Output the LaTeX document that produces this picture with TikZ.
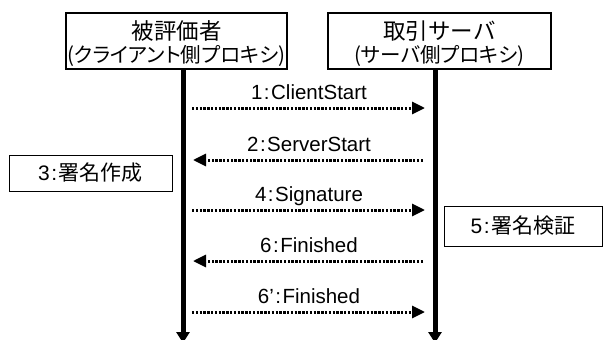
\documentclass[tikz,border=0pt]{standalone}
\usepackage{fontspec}
\setmainfont{Liberation Sans}
\newfontfamily\jp{Noto Sans CJK JP}
\newfontfamily\jpp{Noto Sans CJK JP}[RawFeature=+palt]
\usetikzlibrary{arrows.meta}
\newcommand{\clr}{\kern1.5pt:\kern1.5pt}
\begin{document}
\begin{tikzpicture}[x=1pt,y=-1pt,
  actorbox/.style={draw, line width=1.3pt, minimum height=56pt, inner sep=0pt},
  headA/.style={inner sep=0pt, font=\fontsize{22.5}{24}\selectfont\jp},
  headB/.style={inner sep=0pt, font=\fontsize{20.5}{24}\selectfont\jpp},
  notebox/.style={draw, line width=1pt, inner sep=0pt, font=\fontsize{21}{24}\selectfont},
  life/.style={line width=5pt, -{Triangle[length=11pt,width=13pt]}},
  msg/.style={line width=3pt, dash pattern=on 2.4pt off 1.4pt, -{Triangle[length=13pt,width=12pt]}},
  lbl/.style={font=\fontsize{20.5}{24}\selectfont, anchor=base}
]
\useasboundingbox (0,0) rectangle (603,340);
% actors
\node[actorbox, minimum width=221pt] (cli) at (176.5,41) {};
\node[actorbox, minimum width=223pt] (srv) at (439.5,41) {};
\node[headA] (cli1) at (176.5,31) {被評価者};
\node[headB] (cli2) at (176.5,56) {(クライアント側プロキシ)};
\node[headA] (srv1) at (439.5,31) {取引サーバ};
\node[headB] (srv2) at (439.5,56) {(サーバ側プロキシ)};
% lifelines
\coordinate (cT) at (183,69);
\coordinate (cB) at (183,343);
\coordinate (sT) at (435,69);
\coordinate (sB) at (435,343);
\draw[life] (cT) -- (cB);
\draw[life] (sT) -- (sB);
% message anchor points
\foreach \i/\y in {1/108,2/160,4/210,6/261,7/312}{
  \coordinate (cL\i) at (192,\y);
  \coordinate (sR\i) at (425,\y);
}
\coordinate (sL2) at (423,160);
\coordinate (cR2) at (193,160);
\coordinate (sL6) at (423,261);
\coordinate (cR6) at (193,261);
\draw[msg] (cL1) -- (sR1);
\draw[msg] (sL2) -- (cR2);
\draw[msg] (cL4) -- (sR4);
\draw[msg] (sL6) -- (cR6);
\draw[msg] (cL7) -- (sR7);
% labels
\node[lbl] (m1) at (309,99) {1\clr ClientStart};
\node[lbl] (m2) at (309,151) {2\clr ServerStart};
\node[lbl] (m4) at (309,201) {4\clr Signature};
\node[lbl] (m6) at (309,252) {6\clr Finished};
\node[lbl] (m7) at (309,303) {6’\clr Finished};
% notes
\node[notebox, minimum width=163pt, minimum height=36pt] (n3) at (90.5,173) {3\clr{\jp 署名作成}};
\node[notebox, minimum width=158pt, minimum height=40pt] (n5) at (523,226) {5\clr{\jp 署名検証}};
\end{tikzpicture}
\end{document}
